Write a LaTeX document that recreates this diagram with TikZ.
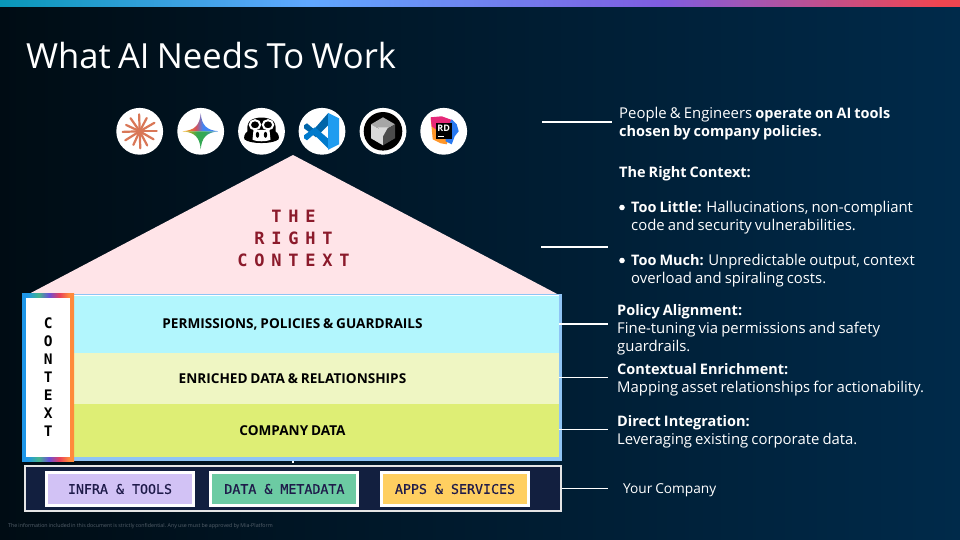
\documentclass[tikz,border=0pt]{standalone}
\usepackage{fontspec}
\setmainfont[WordSpace=0.8]{Open Sans}
\newfontfamily\monof{DejaVu Sans Mono}
\newfontfamily\monom[FakeBold=0.6]{DejaVu Sans Mono}
\newfontfamily\monosp[LetterSpace=40]{DejaVu Sans Mono}
\newcommand{\bb}[1]{{\fontsize{14.5}{18}\selectfont\bfseries #1}}
\usetikzlibrary{calc}
\definecolor{bgL}{HTML}{000C14}
\definecolor{bgR}{HTML}{002A4A}
\pgfdeclarehorizontalshading{bgshade}{100bp}{color(0bp)=(bgL); color(25bp)=(bgL); color(75bp)=(bgR); color(100bp)=(bgR)}
\definecolor{b1}{HTML}{0897B8}\definecolor{b2}{HTML}{5FA8FF}\definecolor{b3}{HTML}{7F5CE0}\definecolor{b4}{HTML}{F04550}
\pgfdeclarehorizontalshading{barshade}{100bp}{color(0bp)=(b1); color(25bp)=(b1); color(41bp)=(b2); color(59.5bp)=(b3); color(74bp)=(b4); color(100bp)=(b4)}
\definecolor{c1}{HTML}{1E96E8}\definecolor{c2}{HTML}{45B58C}\definecolor{c3}{HTML}{6A4FD8}\definecolor{c4}{HTML}{E8405A}\definecolor{c5}{HTML}{FF8A3C}
\pgfdeclarehorizontalshading{ctxshade}{100bp}{color(0bp)=(c1); color(30bp)=(c1); color(41bp)=(c2); color(51bp)=(c3); color(61bp)=(c4); color(70bp)=(c5); color(100bp)=(c5)}
\definecolor{gy}{HTML}{F9AB00}\definecolor{gr}{HTML}{D9505A}\definecolor{gb}{HTML}{4285F4}\definecolor{gg}{HTML}{34A853}
\pgfdeclarehorizontalshading{gemtop}{100bp}{color(0bp)=(gy); color(25bp)=(gy); color(43bp)=(gr); color(53bp)=(gb); color(100bp)=(gb)}
\pgfdeclarehorizontalshading{gembot}{100bp}{color(0bp)=(gy); color(25bp)=(gy); color(45bp)=(gg); color(55bp)=(gg); color(75bp)=(gb); color(100bp)=(gb)}
\definecolor{chiptxt}{HTML}{1F1B4A}
\tikzset{
 iconbg/.style={circle,fill=white,minimum size=46.8pt,inner sep=0pt},
 layerbox/.style={minimum width=485pt,inner sep=0pt},
 layertxt/.style={inner sep=0pt,font=\fontsize{13.6}{15}\selectfont\bfseries,text=black},
 chipbox/.style={draw=white,line width=3pt,minimum width=147pt,minimum height=33pt,inner sep=0pt,font=\fontsize{13.3}{15}\selectfont\monom,text=chiptxt},
 rule/.style={draw=white,line width=1.5pt},
 side/.style={anchor=north west,align=left,inner sep=0pt,text=white,font=\fontsize{14.9}{18}\selectfont},
}
\begin{document}
\begin{tikzpicture}[x=1pt,y=-1pt]
\useasboundingbox (0,0) rectangle (960,540);
\shade[shading=bgshade] (0,0) rectangle (960,540);
\shade[shading=barshade] (0,0) rectangle (960,6.5);
\node[anchor=west,inner sep=0pt,text=white,font=\fontsize{34.6}{40}\selectfont] (title) at (26,56) {What AI Needs To Work};
% icons
\node[iconbg] (i1) at (139.7,131.3) {};
\node[iconbg] (i2) at (200.7,131.3) {};
\node[iconbg] (i3) at (261.5,131.3) {};
\node[iconbg] (i4) at (322,131.3) {};
\node[iconbg] (i5) at (383,131.3) {};
\node[iconbg] (i6) at (443.7,131.3) {};
% claude
\begin{scope}[shift={(i1.center)}]
\foreach \a/\l in {0/17,30/16,62/16,88/17,115/15,148/17,178/17,205/15,235/16,268/17,298/15,330/17}
  \draw[color={rgb,255:red,217;green,119;blue,87},line width=2.2pt,line cap=round] (0,0) -- (\a:\l);
\end{scope}
% gemini
\begin{scope}[shift={(i2.center)}]
\shade[shading=gemtop] (-18,0) .. controls (-6,-1) and (-1,-6) .. (0,-18) .. controls (1,-6) and (6,-1) .. (18,0) -- cycle;
\shade[shading=gembot] (-18,0) .. controls (-6,1) and (-1,6) .. (0,18) .. controls (1,6) and (6,1) .. (18,0) -- cycle;
\end{scope}
% copilot penguin
\begin{scope}[shift={(i3.center)}]
\fill[black] (-12,-10) .. controls (-7,-15) and (7,-15) .. (12,-10) .. controls (15,-6) and (14,-2) .. (14,0) .. controls (17,2) and (18,6) .. (17,8) .. controls (12,13) and (-12,13) .. (-17,8) .. controls (-18,6) and (-17,2) .. (-14,0) .. controls (-14,-2) and (-15,-6) .. (-12,-10) -- cycle;
\fill[white] (-8,-1.5) -- (8,-1.5) -- (9,8.5) .. controls (5,10.5) and (-5,10.5) .. (-9,8.5) -- cycle;
\draw[white,line width=2pt] (-6.5,-6.5) ellipse (5.2 and 4.6);
\draw[white,line width=2pt] (6.5,-6.5) ellipse (5.2 and 4.6);
\fill[black] (-4,3.5) ellipse (1.7 and 3);
\fill[black] (4,3.5) ellipse (1.7 and 3);
\end{scope}
% vscode
\begin{scope}[shift={(i4.center)}]
\fill[color={rgb,255:red,0;green,101;blue,169}] (6,-18) -- (-8,-2) -- (-15,-8) -- (-18,-6) -- (-18,-3) -- (-6,6) -- (7,-7) -- cycle;
\fill[color={rgb,255:red,0;green,122;blue,204}] (7,18) -- (-8,3) -- (-15,9) -- (-18,7) -- (-18,4) -- (-7,-4) -- (7,8) -- cycle;
\fill[color={rgb,255:red,31;green,156;blue,240}] (6,-18.5) -- (17,-13) -- (17,13) -- (6,18.5) -- cycle;
\end{scope}
% cube
\begin{scope}[shift={(i5.center)}]
\fill[black] (0,0) circle (19.3);
\fill[gray!70] (0,-14) -- (12,-7) -- (0,0) -- (-12,-7) -- cycle;
\fill[gray!30] (-12,-7) -- (0,0) -- (0,14) -- (-12,7) -- cycle;
\fill[gray!60!black] (12,-7) -- (0,0) -- (0,14) -- (12,7) -- cycle;
\fill[white!85!black] (-5,-4) -- (5,-4) -- (0,5) -- cycle;
\end{scope}
% rider
\begin{scope}[shift={(i6.center)}]
\fill[color={rgb,255:red,255;green,150;blue,40}] (-13,-13) -- (-3,-14) -- (8,0) -- (3,13) -- (-3,12) -- (-11,8) -- cycle;
\fill[color={rgb,255:red,230;green,40;blue,120}] (-13,-14) -- (-2,-15) -- (9,-11) -- (10,-2) -- (-8,-2) -- (-12,-5) -- cycle;
\fill[color={rgb,255:red,40;green,120;blue,240}] (8,-12) -- (13,-7) -- (15,0) -- (11,5) -- (8,13) -- (2,10) -- (2,0) -- cycle;
\fill[black] (-8,-8.6) rectangle (8,8);
\node[text=white,font=\fontsize{9}{9}\selectfont\bfseries,inner sep=0pt] (rd) at (0,-3) {RD};
\fill[white] (-6,4.5) rectangle (0,5.6);
\end{scope}
% house
\fill[color={rgb,255:red,255;green,228;blue,232}] (293,155) -- (560,295.5) -- (26,295.5) -- cycle;
\node[inner sep=0pt,align=center,text={rgb,255:red,139;green,26;blue,43},font=\fontsize{17}{22}\selectfont\monosp\bfseries] (roof) at (293.5,238) {THE\\RIGHT\\CONTEXT};
% stack
\fill[color={rgb,255:red,143;green,196;blue,245}] (70,294) rectangle (562,461);
\node[layerbox,fill={rgb,255:red,178;green,246;blue,253},minimum height=56.5pt] (l1) at (316.5,324.5) {};
\node[layerbox,fill={rgb,255:red,239;green,246;blue,195},minimum height=51.5pt] (l2) at (316.5,378.5) {};
\node[layerbox,fill={rgb,255:red,222;green,238;blue,117},minimum height=53pt] (l3) at (316.5,430.5) {};
\draw[white,line width=0.8pt] (74,295.8) -- (559,295.8);
\node[layertxt] (l1t) at (292.5,324) {PERMISSIONS, POLICIES \& GUARDRAILS};
\node[layertxt] (l2t) at (292.5,378.3) {ENRICHED DATA \& RELATIONSHIPS};
\node[layertxt] (l3t) at (292.5,430.8) {COMPANY DATA};
% context
\shade[shading=ctxshade] (22,293) rectangle (74,461);
\node[fill=white,minimum width=44.5pt,minimum height=159pt,inner sep=0pt,align=center,font=\fontsize{14.5}{18}\selectfont\monof\bfseries,text=black] (ctx) at (48.2,377.5) {C\\O\\N\\T\\E\\X\\T};
% company
\node[draw=white!90!black,line width=1.4pt,fill={rgb,255:red,18;green,31;blue,63},minimum width=536pt,minimum height=45pt,inner sep=0pt] (co) at (292.8,488.5) {};
\node[chipbox,fill={rgb,255:red,210;green,194;blue,245}] (c1) at (120,489) {INFRA \& TOOLS};
\node[chipbox,fill={rgb,255:red,108;green,203;blue,163}] (c2) at (284.4,489) {DATA \& METADATA};
\node[chipbox,fill={rgb,255:red,255;green,207;blue,96}] (c3) at (455,489) {APPS \& SERVICES};
% connectors
\coordinate (r0a) at (542,122); \coordinate (r0b) at (612,122);
\coordinate (r1a) at (541,247); \coordinate (r1b) at (608,247);
\coordinate (r2) at (608,324); \coordinate (r3) at (608,377.4); \coordinate (r4) at (608,429.4); \coordinate (r5) at (608,488.4);
\draw[rule] (r0a) -- (r0b);
\draw[rule] (r1a) -- (r1b);
\draw[rule] (l1.east |- r2) -- (r2);
\draw[rule] (l2.east |- r3) -- (r3);
\draw[rule] (l3.east |- r4) -- (r4);
\draw[rule] (co.east |- r5) -- (r5);
\coordinate (tk) at (293,463);
\draw[white,line width=1.2pt] (293,461) -- (tk);
% right text
\node[side] (t1) at (619,106.8) {People \& Engineers \bb{operate on AI tools}\\\bb{chosen by company policies.}};
\node[side] (t2) at (619,165.8) {\bb{The Right Context:}};
\node[side] (t3) at (631,200.8) {\bb{Too Little:} Hallucinations, non-compliant\\code and security vulnerabilities.};
\node[side] (t4) at (631,253.8) {\bb{Too Much:} Unpredictable output, context\\overload and spiraling costs.};
\fill[white] (622,207.5) circle (2.8);
\fill[white] (622,260.5) circle (2.8);
\node[side] (t5) at (617,303.8) {\bb{Policy Alignment:}\\Fine-tuning via permissions and safety\\guardrails.};
\node[side] (t6) at (617,362.8) {\bb{Contextual Enrichment:}\\Mapping asset relationships for actionability.};
\node[side] (t7) at (617,414.8) {\bb{Direct Integration:}\\Leveraging existing corporate data.};
\node[anchor=west,inner sep=0pt,text=white,font=\fontsize{13.7}{15}\selectfont] (t8) at (623,490.3) {Your Company};
\node[anchor=west,inner sep=0pt,text={rgb,255:red,85;green,97;blue,108},font=\fontsize{5.3}{6}\selectfont] (foot) at (8,526.5) {The information included in this document is strictly confidential. Any use must be approved by Mia-Platform};
\end{tikzpicture}
\end{document}
